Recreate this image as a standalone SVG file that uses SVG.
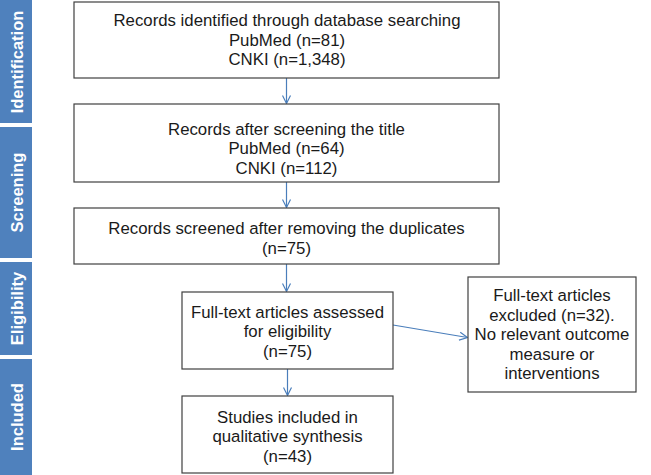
<svg xmlns="http://www.w3.org/2000/svg" width="651" height="475" viewBox="0 0 651 475">
<style>
.bar{fill:#4f81bd}
.bl{font-family:"Liberation Sans",Arial,sans-serif;font-weight:bold;font-size:16.5px;fill:#fff;text-anchor:middle}
.box{fill:#fff;stroke:#404040;stroke-width:1.2}
.t{font-family:"Liberation Sans",Arial,sans-serif;font-size:16.8px;fill:#1a1a1a;text-anchor:middle}
.c{stroke:#4a7ebb;stroke-width:1.2;fill:none}
</style>
<defs>
<marker id="ah" viewBox="0 0 10 10" refX="9" refY="5" markerWidth="10" markerHeight="10" markerUnits="userSpaceOnUse" orient="auto">
<path d="M1,1 L9,5 L1,9" fill="none" stroke="#4a7ebb" stroke-width="1.2"/>
</marker>
</defs>
<rect width="651" height="475" fill="#fff"/>
<g id="phase-identification"><rect class="bar" x="0" y="0" width="32" height="123"/><text class="bl" transform="translate(22.5,62) rotate(-90)">Identification</text></g>
<g id="phase-screening"><rect class="bar" x="0" y="127" width="32" height="131"/><text class="bl" transform="translate(22.5,192.5) rotate(-90)">Screening</text></g>
<g id="phase-eligibility"><rect class="bar" x="0" y="262" width="32" height="93"/><text class="bl" transform="translate(22.5,308.5) rotate(-90)">Eligibility</text></g>
<g id="phase-included"><rect class="bar" x="0" y="359" width="32" height="116"/><text class="bl" transform="translate(22.5,417) rotate(-90)">Included</text></g>
<g id="connectors">
<line class="c" x1="286.5" y1="78" x2="286.5" y2="103.5" marker-end="url(#ah)"/>
<line class="c" x1="286.5" y1="182" x2="286.5" y2="207.5" marker-end="url(#ah)"/>
<line class="c" x1="286.5" y1="264" x2="286.5" y2="291.5" marker-end="url(#ah)"/>
<line class="c" x1="287.5" y1="369" x2="287.5" y2="395.5" marker-end="url(#ah)"/>
<line class="c" x1="393" y1="325" x2="467.5" y2="337.5" marker-end="url(#ah)"/>
</g>
<g id="node-identified"><rect class="box" x="74" y="2" width="425" height="76"/>
<text class="t" x="287" y="26">Records identified through database searching</text>
<text class="t" x="287" y="45.5">PubMed (n=81)</text>
<text class="t" x="287" y="65">CNKI (n=1,348)</text></g>
<g id="node-title"><rect class="box" x="74" y="104" width="425" height="78"/>
<text class="t" x="286.5" y="134.5">Records after screening the title</text>
<text class="t" x="286.5" y="154">PubMed (n=64)</text>
<text class="t" x="286.5" y="173.5">CNKI (n=112)</text></g>
<g id="node-duplicates"><rect class="box" x="74" y="208" width="425" height="56"/>
<text class="t" x="286.5" y="234">Records screened after removing the duplicates</text>
<text class="t" x="286.5" y="253.5">(n=75)</text></g>
<g id="node-fulltext"><rect class="box" x="182" y="292" width="211" height="77"/>
<text class="t" x="287.5" y="317.5">Full-text articles assessed</text>
<text class="t" x="287.5" y="337">for eligibility</text>
<text class="t" x="287.5" y="356.5">(n=75)</text></g>
<g id="node-excluded"><rect class="box" x="468" y="277" width="168" height="115"/>
<text class="t" x="552" y="301">Full-text articles</text>
<text class="t" x="552" y="320.5">excluded (n=32).</text>
<text class="t" x="552" y="340">No relevant outcome</text>
<text class="t" x="552" y="359.5">measure or</text>
<text class="t" x="552" y="379">interventions</text></g>
<g id="node-included"><rect class="box" x="182" y="396" width="211" height="77"/>
<text class="t" x="287.5" y="422.5">Studies included in</text>
<text class="t" x="287.5" y="442">qualitative synthesis</text>
<text class="t" x="287.5" y="461.5">(n=43)</text></g>
</svg>
